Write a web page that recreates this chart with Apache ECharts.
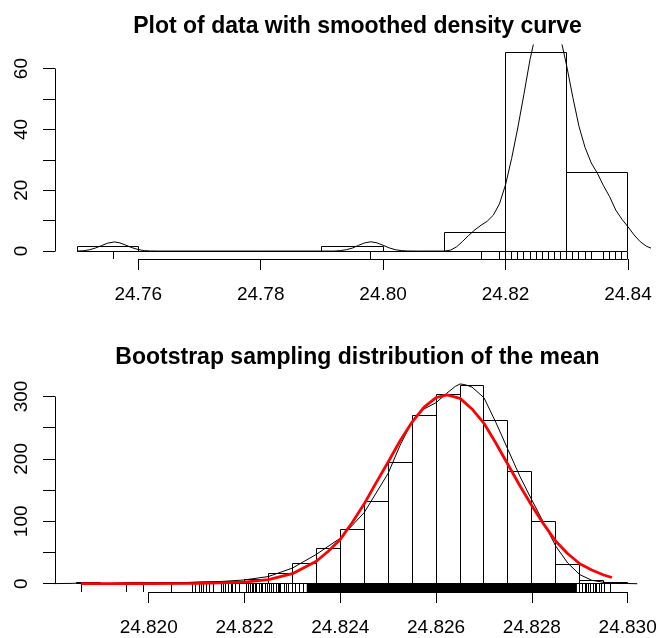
<!DOCTYPE html>
<html>
<head>
<meta charset="utf-8">
<script src="https://cdn.jsdelivr.net/npm/echarts@6/dist/echarts.min.js"></script>
<style>
	html, body { margin: 0; padding: 0; background: #fff; }
	#chart { width: 658px; height: 638px; }
</style>
</head>
<body>
<div id="chart"></div>
<script>
// ---- top panel: histogram (density scale) of the raw data
let topBreaks = [24.75, 24.76, 24.77, 24.78, 24.79, 24.80, 24.81, 24.82, 24.83, 24.84];
let topHeights = [1.5, 0, 0, 0, 1.5, 0, 6.1, 65.2, 25.8];
let topCurveX = [
	24.750, 24.751, 24.752, 24.753, 24.754, 24.755, 24.7561, 24.757, 24.758, 24.759, 24.760, 24.761, 24.762, 24.7635,
	24.792, 24.793, 24.794, 24.795, 24.796, 24.797, 24.798, 24.799, 24.800, 24.801, 24.802, 24.803, 24.804, 24.8055,
	24.810, 24.811, 24.812, 24.813, 24.814, 24.815, 24.816, 24.817, 24.818, 24.819, 24.820, 24.821, 24.822, 24.823,
	24.824, 24.825, 24.826, 24.827, 24.828, 24.829, 24.830, 24.831, 24.832, 24.833, 24.834, 24.835, 24.836, 24.837,
	24.838, 24.839, 24.840, 24.841, 24.842, 24.843, 24.844, 24.845, 24.846,
];
let topCurveY = [
	0, 0.1, 0.4, 1.0, 1.8, 2.6, 3.0, 2.7, 1.9, 1.1, 0.5, 0.15, 0.03, 0,
	0, 0.15, 0.45, 1.0, 1.9, 2.7, 3.05, 2.7, 1.9, 1.05, 0.45, 0.15, 0.03, 0,
	0, 0.3, 1.4, 3.2, 5.2, 7.0, 8.5, 9.8, 11.8, 15.5, 21.8, 30.5, 40.5, 51.5,
	63, 72, 78, 80, 78, 70, 60.8, 50.5, 41, 34, 29, 25.6, 21.5, 17.9,
	13.5, 10.5, 8.0, 5.3, 3.1, 1.6, 0.8, 0.3, 0.1,
];
let topRug = [
	24.756, 24.798, 24.816, 24.819, 24.820, 24.821, 24.822, 24.823, 24.824, 24.825, 24.826, 24.827,
	24.828, 24.829, 24.830, 24.831, 24.832, 24.833, 24.834, 24.836, 24.837, 24.838, 24.839, 24.840,
];
let topXTicks = [24.76, 24.78, 24.80, 24.82, 24.84];
let topYTicks = [0, 10, 20, 30, 40, 50, 60];
let topYLabels = [0, 20, 40, 60];

// ---- bottom panel: bootstrap means
let botBreaks = [
	24.8185, 24.8190, 24.8195, 24.8200, 24.8205, 24.8210, 24.8215, 24.8220, 24.8225, 24.8230, 24.8235, 24.8240,
	24.8245, 24.8250, 24.8255, 24.8260, 24.8265, 24.8270, 24.8275, 24.8280, 24.8285, 24.8290, 24.8295, 24.8300,
];
let botHeights = [2, 0, 2, 2, 2, 2.7, 4.3, 6.5, 16.5, 32.6, 57.1, 87.6, 131.3, 194.9, 270.2, 303.8, 317.1, 261.1, 180.5, 99.3, 30.4, 5.9, 1.5];
let botCurveX = [
	24.8178, 24.8184, 24.8186, 24.8189, 24.8192, 24.8196, 24.8199, 24.8202, 24.8205, 24.8208, 24.8211, 24.8215,
	24.8220, 24.8225, 24.8230, 24.8235, 24.8240, 24.8245, 24.8250, 24.82525, 24.8255, 24.82575, 24.8260, 24.82622,
	24.8264, 24.8265, 24.8266, 24.82675, 24.8270, 24.82725, 24.8275, 24.82775, 24.8280, 24.82825, 24.8285, 24.82875,
	24.8290, 24.82925, 24.8295, 24.8298, 24.8302,
];
let botCurveY = [
	0, 0.5, 1.2, 0.5, 0.5, 2.0, 2.0, 1.0, 1.6, 2.0, 3.0, 3.5,
	6.0, 11.5, 25, 47, 73, 114, 177, 222, 260, 280, 290, 305,
	316, 320, 319, 315, 298, 258, 215, 172, 134, 97, 60, 33,
	14.5, 5.5, 2.2, 0.6, 0,
];
let normCurveX = [
	24.81859, 24.8200, 24.8210, 24.8215, 24.8220, 24.8225, 24.8230, 24.8235, 24.82375, 24.8240, 24.82425,
	24.8245, 24.82475, 24.8250, 24.82525, 24.8255, 24.82575, 24.8260, 24.82623, 24.8265, 24.82675, 24.8270,
	24.82725, 24.8275, 24.82775, 24.8280, 24.82825, 24.8285, 24.82875, 24.8290, 24.82925, 24.8295, 24.82967,
];
let normCurveY = [
	0, 0.2, 0.6, 1.2, 2.5, 6.5, 16, 36, 52, 71, 98,
	128, 162, 195, 229, 259, 283, 298, 302.5, 297, 280, 257,
	225, 191, 157, 125, 95, 68, 48, 32, 22, 14, 10,
];
let botRug = [
	24.81859, 24.81953, 24.81990, 24.82048, 24.82092, 24.82097, 24.82106, 24.82111, 24.82115, 24.82121, 24.82127,
	24.82135, 24.82152, 24.82157, 24.82161, 24.82166, 24.82173, 24.82176, 24.82182, 24.82189, 24.82204, 24.82208,
	24.82212, 24.82217, 24.82219, 24.82223, 24.82226, 24.82231, 24.82235, 24.82238, 24.82244, 24.82249, 24.82253,
	24.82256, 24.82260, 24.82266, 24.82270, 24.82273, 24.82276, 24.82283, 24.82287, 24.82292, 24.82300, 24.82307,
	24.82314, 24.82324,
	24.82900, 24.82906, 24.82911, 24.82914, 24.82918, 24.82923, 24.82928, 24.82932, 24.82935, 24.82941, 24.82946,
	24.82951, 24.82965,
];
let botRugBand = [24.82330, 24.82894]; // too dense to separate: drawn solid
let botXTicks = [24.820, 24.822, 24.824, 24.826, 24.828, 24.830];
let botYTicks = [0, 50, 100, 150, 200, 250, 300];
let botYLabels = [0, 100, 200, 300];

let font = "'Liberation Sans', Arial, Helvetica, sans-serif";

let topX = { min: 24.7464, max: 24.8436 };
let topY = { min: -2.606, max: 67.756 };
let botX = { min: 24.818044, max: 24.830466 };
let botY = { min: -13.29, max: 345.6 };

let snap = (v) => Math.floor(v) + 0.5;

let histItem = function (params, api) {
	let p0 = api.coord([api.value(0), 0]);
	let p1 = api.coord([api.value(1), api.value(2)]);
	let x0 = snap(p0[0]);
	let x1 = snap(p1[0]);
	let yb = snap(p0[1]);
	let yt = snap(p1[1]);
	return {
		type: "rect",
		shape: { x: x0, y: yt, width: x1 - x0, height: yb - yt },
		style: { fill: "none", stroke: "#000", lineWidth: 1 },
	};
};

let rugItem = function (yMin, len) {
	return function (params, api) {
		let p = api.coord([api.value(0), yMin]);
		let x = snap(p[0]);
		return {
			type: "line",
			shape: { x1: x, y1: p[1], x2: x, y2: p[1] - len },
			style: { stroke: "#000", lineWidth: 1 },
		};
	};
};

let bandItem = function (yMin, len) {
	return function (params, api) {
		let a = api.coord([api.value(0), yMin]);
		let b = api.coord([api.value(1), yMin]);
		return {
			type: "rect",
			shape: { x: a[0], y: a[1] - len, width: b[0] - a[0], height: len },
			style: { fill: "#000" },
		};
	};
};

// x tick labels, placed under the axis
let xLabelItem = function (yMin, digits) {
	return function (params, api) {
		let p = api.coord([api.value(0), yMin]);
		return {
			type: "text",
			x: p[0],
			y: p[1] + 26,
			style: {
				text: api.value(0).toFixed(digits),
				align: "center",
				verticalAlign: "top",
				fontSize: 19,
				fontFamily: font,
				fill: "#000",
			},
		};
	};
};

// R style axis lines: only from first to last tick
let frameItem = function (xTicks, yTicks, xMin, yMin) {
	return function (params, api) {
		let a = api.coord([xTicks[0], yMin]);
		let b = api.coord([xTicks[xTicks.length - 1], yMin]);
		let c = api.coord([xMin, yTicks[0]]);
		let d = api.coord([xMin, yTicks[yTicks.length - 1]]);
		let y = snap(a[1]);
		let x = snap(c[0]);
		return {
			type: "group",
			children: [
				{
					type: "line",
					shape: { x1: snap(a[0]), y1: y, x2: snap(b[0]), y2: y },
					style: { stroke: "#000", lineWidth: 1 },
				},
				{
					type: "line",
					shape: { x1: x, y1: snap(c[1]), x2: x, y2: snap(d[1]) },
					style: { stroke: "#000", lineWidth: 1 },
				},
			],
		};
	};
};

let xAxisOf = function (gridIndex, range, ticks) {
	return {
		type: "value",
		gridIndex: gridIndex,
		min: range.min,
		max: range.max,
		axisLine: { show: false, onZero: false },
		splitLine: { show: false },
		axisTick: {
			show: true,
			length: 11,
			customValues: ticks,
			lineStyle: { color: "#000", width: 1 },
		},
		axisLabel: { show: false },
	};
};

let yAxisOf = function (gridIndex, range, ticks, labels) {
	return {
		type: "value",
		gridIndex: gridIndex,
		min: range.min,
		max: range.max,
		axisLine: { show: false, onZero: false },
		splitLine: { show: false },
		axisTick: {
			show: true,
			length: 12,
			customValues: ticks,
			lineStyle: { color: "#000", width: 1 },
		},
		axisLabel: {
			customValues: labels,
			rotate: 90,
			margin: 24,
			fontSize: 19,
			color: "#000",
			fontFamily: font,
		},
	};
};

let pairs = (xs, ys) => xs.map((x, i) => [x, ys[i]]);
let bins = (br, hs) => hs.map((h, i) => [br[i], br[i + 1], h]);

let myChart = echarts.init(document.getElementById("chart"), null, { renderer: "canvas" });

let titleStyle = { fontSize: 23, fontWeight: "bold", color: "#000", fontFamily: font };

let option = {
	animation: false,
	backgroundColor: "#fff",
	title: [
		{
			text: "Plot of data with smoothed density curve",
			left: 352.5,
			top: 10,
			textAlign: "center",
			textStyle: titleStyle,
		},
		{
			text: "Bootstrap sampling distribution of the mean",
			left: 352.5,
			top: 341,
			textAlign: "center",
			textStyle: titleStyle,
		},
	],
	grid: [
		{ left: 55, right: 8, top: 45, height: 214 },
		{ left: 55, right: 8, top: 368, height: 224 },
	],
	xAxis: [xAxisOf(0, topX, topXTicks), xAxisOf(1, botX, botXTicks)],
	yAxis: [yAxisOf(0, topY, topYTicks, topYLabels), yAxisOf(1, botY, botYTicks, botYLabels)],
	series: [
		{
			type: "custom",
			name: "frame top",
			xAxisIndex: 0,
			yAxisIndex: 0,
			renderItem: frameItem(topXTicks, topYTicks, topX.min, topY.min),
			data: [[0, 0]],
			silent: true,
		},
		{
			type: "custom",
			name: "x labels top",
			xAxisIndex: 0,
			yAxisIndex: 0,
			renderItem: xLabelItem(topY.min, 2),
			data: topXTicks.map((v) => [v]),
			silent: true,
		},
		{
			type: "custom",
			name: "hist top",
			xAxisIndex: 0,
			yAxisIndex: 0,
			renderItem: histItem,
			encode: { x: [0, 1], y: 2 },
			data: bins(topBreaks, topHeights),
		},
		{
			type: "line",
			name: "density top",
			xAxisIndex: 0,
			yAxisIndex: 0,
			showSymbol: false,
			symbol: "none",
			clip: true,
			lineStyle: { color: "#000", width: 1 },
			data: pairs(topCurveX, topCurveY),
			z: 3,
		},
		{
			type: "custom",
			name: "rug top",
			xAxisIndex: 0,
			yAxisIndex: 0,
			renderItem: rugItem(topY.min, 7),
			data: topRug.map((v) => [v]),
			z: 4,
		},
		{
			type: "custom",
			name: "frame bottom",
			xAxisIndex: 1,
			yAxisIndex: 1,
			renderItem: frameItem(botXTicks, botYTicks, botX.min, botY.min),
			data: [[0, 0]],
			silent: true,
		},
		{
			type: "custom",
			name: "x labels bottom",
			xAxisIndex: 1,
			yAxisIndex: 1,
			renderItem: xLabelItem(botY.min, 3),
			data: botXTicks.map((v) => [v]),
			silent: true,
		},
		{
			type: "custom",
			name: "hist bottom",
			xAxisIndex: 1,
			yAxisIndex: 1,
			renderItem: histItem,
			encode: { x: [0, 1], y: 2 },
			data: bins(botBreaks, botHeights),
		},
		{
			type: "line",
			name: "density bottom",
			xAxisIndex: 1,
			yAxisIndex: 1,
			showSymbol: false,
			symbol: "none",
			clip: true,
			lineStyle: { color: "#000", width: 1 },
			data: pairs(botCurveX, botCurveY),
			z: 3,
		},
		{
			type: "custom",
			name: "rug bottom",
			xAxisIndex: 1,
			yAxisIndex: 1,
			renderItem: rugItem(botY.min, 8),
			data: botRug.map((v) => [v]),
			z: 4,
		},
		{
			type: "custom",
			name: "rug band bottom",
			xAxisIndex: 1,
			yAxisIndex: 1,
			renderItem: bandItem(botY.min, 8),
			data: [botRugBand],
			z: 4,
		},
		{
			type: "line",
			name: "normal",
			xAxisIndex: 1,
			yAxisIndex: 1,
			showSymbol: false,
			symbol: "none",
			clip: true,
			lineStyle: { color: "#ff0000", width: 2.8 },
			data: pairs(normCurveX, normCurveY),
			z: 5,
		},
	],
};

myChart.setOption(option);
</script>
</body>
</html>
